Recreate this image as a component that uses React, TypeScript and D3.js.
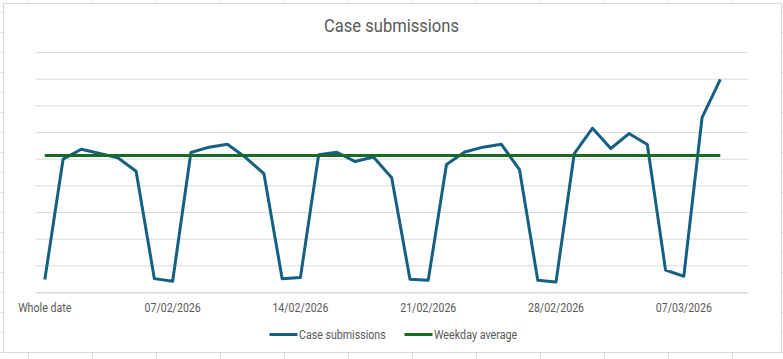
import React, { useRef, useEffect } from 'react';
import * as d3 from 'd3';

// categories: first row is the header label, then one per day
const categories: string[] = ['Whole date'];
const dayLabels = [
  '01/02/2026', '02/02/2026', '03/02/2026', '04/02/2026', '05/02/2026', '06/02/2026', '07/02/2026',
  '08/02/2026', '09/02/2026', '10/02/2026', '11/02/2026', '12/02/2026', '13/02/2026', '14/02/2026',
  '15/02/2026', '16/02/2026', '17/02/2026', '18/02/2026', '19/02/2026', '20/02/2026', '21/02/2026',
  '22/02/2026', '23/02/2026', '24/02/2026', '25/02/2026', '26/02/2026', '27/02/2026', '28/02/2026',
  '01/03/2026', '02/03/2026', '03/03/2026', '04/03/2026', '05/03/2026', '06/03/2026', '07/03/2026',
  '08/03/2026', '09/03/2026', '10/03/2026',
];
categories.push(...dayLabels);

const caseSubmissions = [
  49, 500, 537, 521, 505, 455, 52, 42, 525, 545, 556, 506, 446, 52, 56, 517, 526, 491, 508, 430,
  50, 46, 480, 527, 545, 556, 461, 46, 39, 521, 616, 540, 596, 555, 84, 61, 656, 799,
];

const weekdayAverage = [
  514, 514, 514, 514, 514, 514, 514, 514, 514, 514, 514, 514, 514, 514, 514, 514, 514, 514, 514,
  514, 514, 514, 514, 514, 514, 514, 514, 514, 514, 514, 514, 514, 514, 514, 514, 514, 514, 514,
];

const tickLabels = ['Whole date', '07/02/2026', '14/02/2026', '21/02/2026', '28/02/2026', '07/03/2026'];

const App = () => {
  const svgRef = useRef<SVGSVGElement>(null);

  useEffect(() => {
    const width = 783;
    const height = 359;
    const font = 'Roboto, sans-serif';
    const svg = d3.select(svgRef.current);
    svg.selectAll('*').remove();
    svg.attr('width', width).attr('height', height);

    // spreadsheet cells behind the chart
    const cells = svg.append('g').attr('stroke', '#e1e1e1').attr('stroke-width', 1);
    for (let x = 28.5; x < width; x += 64) {
      cells.append('line').attr('x1', x).attr('x2', x).attr('y1', 0).attr('y2', height);
    }
    for (let y = 12.5; y < height; y += 20) {
      cells.append('line').attr('x1', 0).attr('x2', width).attr('y1', y).attr('y2', y);
    }

    svg.append('rect')
      .attr('x', 3.5).attr('y', 3.5)
      .attr('width', 778).attr('height', 349)
      .attr('fill', '#fff')
      .attr('stroke', '#d9d9d9');

    const plot = { left: 35.7, right: 747.7, top: 52.5, bottom: 292.5 };

    const x = d3.scaleBand()
      .domain(categories)
      .range([plot.left, plot.right]);

    const y = d3.scaleLinear()
      .domain([0, 900])
      .range([plot.bottom, plot.top]);

    // gridlines
    svg.append('g')
      .selectAll('line')
      .data(y.ticks(9))
      .join('line')
      .attr('x1', plot.left).attr('x2', plot.right)
      .attr('y1', d => y(d)).attr('y2', d => y(d))
      .attr('stroke', '#d9d9d9')
      .attr('stroke-width', 1);

    // x axis (Excel's narrow font is squeezed with textLength)
    const xAxis = svg.append('g')
      .attr('transform', `translate(0,${plot.bottom})`)
      .call(d3.axisBottom(x).tickValues(tickLabels).tickSize(0).tickPadding(0));
    xAxis.select('.domain').attr('stroke', '#d9d9d9');
    xAxis.selectAll('text')
      .attr('dy', 0)
      .attr('y', 19)
      .attr('fill', '#595959')
      .attr('textLength', (d: any) => (d === 'Whole date' ? 53.4 : 56))
      .attr('lengthAdjust', 'spacingAndGlyphs')
      .style('font-family', font)
      .style('font-size', '12px');

    const cx = (i: number) => (x(categories[i]) as number) + x.bandwidth() / 2;

    const line = d3.line<number>()
      .x((d, i) => cx(i))
      .y(d => y(d));

    svg.append('path')
      .datum(caseSubmissions)
      .attr('fill', 'none')
      .attr('stroke', '#156082')
      .attr('stroke-width', 3)
      .attr('stroke-linejoin', 'round')
      .attr('d', line);

    svg.append('path')
      .datum(weekdayAverage)
      .attr('fill', 'none')
      .attr('stroke', '#196b24')
      .attr('stroke-width', 3)
      .attr('d', line);

    // title
    svg.append('text')
      .attr('x', 391.5)
      .attr('y', 31.5)
      .attr('text-anchor', 'middle')
      .attr('fill', '#595959')
      .attr('textLength', 135)
      .attr('lengthAdjust', 'spacingAndGlyphs')
      .style('font-family', font)
      .style('font-size', '18.67px')
      .text('Case submissions');

    // legend
    const legend = [
      { label: 'Case submissions', color: '#156082', x: 269.5, w: 86.7 },
      { label: 'Weekday average', color: '#196b24', x: 404.5, w: 83.3 },
    ];
    legend.forEach(item => {
      const g = svg.append('g').attr('transform', `translate(${item.x},334.5)`);
      g.append('line')
        .attr('x1', 0).attr('x2', 28)
        .attr('stroke', item.color)
        .attr('stroke-width', 3);
      g.append('text')
        .attr('x', 29.5)
        .attr('y', 4)
        .attr('fill', '#595959')
        .attr('textLength', item.w)
        .attr('lengthAdjust', 'spacingAndGlyphs')
        .style('font-family', font)
        .style('font-size', '12px')
        .text(item.label);
    });
  }, []);

  return <svg ref={svgRef} style={{ position: 'absolute', left: 0, top: 0 }}></svg>;
};

export default App;
